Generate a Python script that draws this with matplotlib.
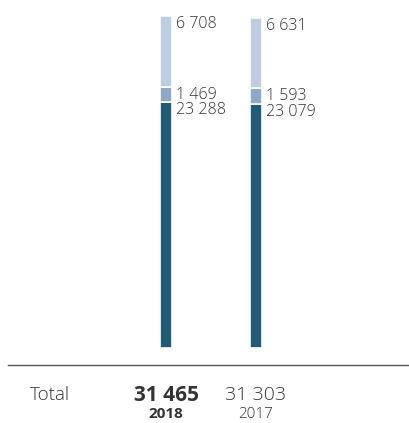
import matplotlib.pyplot as plt
from matplotlib.lines import Line2D
from matplotlib.transforms import blended_transform_factory

plt.rcParams["font.family"] = ["Open Sans", "DejaVu Sans"]

years = ["2018", "2017"]
bottom_vals = [23288, 23079]
middle_vals = [1469, 1593]
top_vals = [6708, 6631]
totals = [31465, 31303]

colors = ["#205b7a", "#8ea9c4", "#bccedf"]
txt = "#333333"


def fmt(v):
    return f"{v:,}".replace(",", " ")


fig = plt.figure(figsize=(4.09, 4.23), dpi=100)
ax = fig.add_axes([0, 75 / 423, 1, 332 / 423])
ax.set_xlim(-166 / 90, (409 - 166) / 90)
ax.set_ylim(0, max(totals))
ax.axis("off")

x = list(range(len(years)))
w = 12 / 90
base = [0] * len(x)
for vals, c in zip([bottom_vals, middle_vals, top_vals], colors):
    ax.bar(x, vals, width=w, bottom=base, color=c, edgecolor="white", linewidth=1.2)
    for xi, b, v in zip(x, base, vals):
        ax.annotate(fmt(v), (xi + w / 2, b + v), xytext=(3, 0),
                    textcoords="offset points", ha="left", va="top",
                    fontsize=11.5, fontweight="light", color=txt)
    base = [b + v for b, v in zip(base, vals)]

# separator line
fig.add_artist(Line2D([8 / 409, 1], [1 - 365 / 423] * 2, color="#555555", lw=1))

# totals row
tr = blended_transform_factory(ax.transData, fig.transFigure)
fig.text(30 / 409, 1 - 395 / 423, "Total", fontsize=13.5, fontweight="light",
         color=txt, va="center")
for i, (xi, t, yr) in enumerate(zip(x, totals, years)):
    wt = "bold" if i == 0 else "light"
    ax.text(xi, 1 - 395 / 423, fmt(t), transform=tr, ha="center", va="center",
            fontsize=15 if i == 0 else 14, fontweight=wt, color=txt)
    ax.text(xi, 1 - 414 / 423, yr, transform=tr, ha="center", va="center",
            fontsize=11, fontweight=wt, color=txt)

fig.savefig("out.png", dpi=100)
